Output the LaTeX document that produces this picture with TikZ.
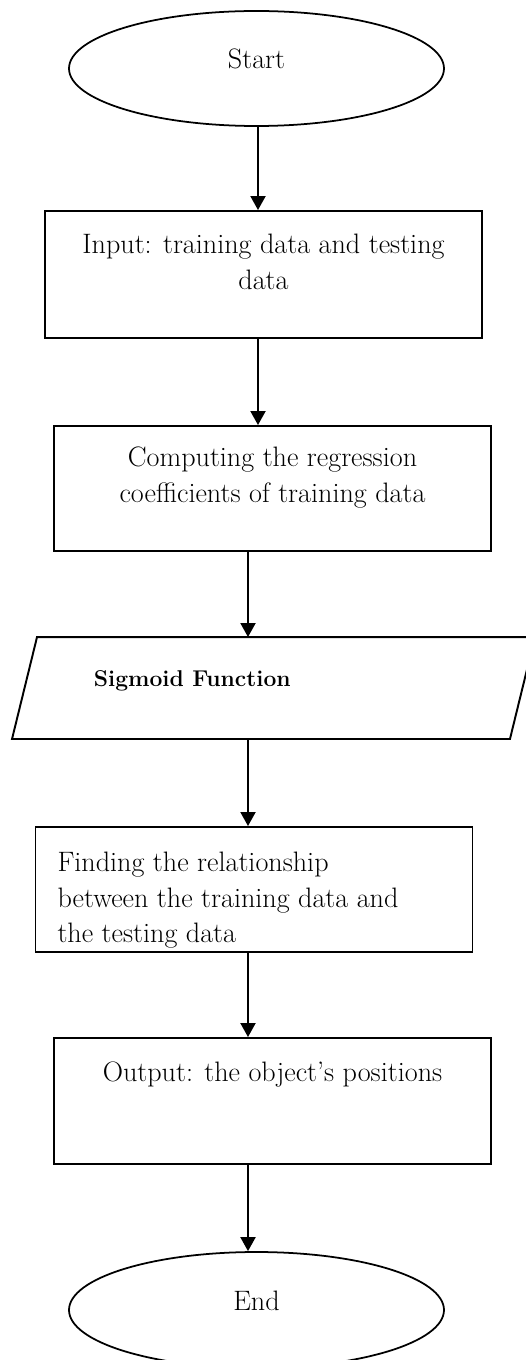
\documentclass[tikz,border=0pt]{standalone}
\usepackage{xcolor}
\usepackage{tikz}
\usetikzlibrary{shapes.geometric}
\usetikzlibrary{positioning}
\usetikzlibrary{arrows.meta}

\begin{document}
\begin{tikzpicture}[
  line width=1.1pt,
  font=\fontsize{16}{20.3}\selectfont,
  >={Triangle[length=0.28cm,width=0.3cm]}
]
\tikzset{
    termnode/.style = {ellipse, draw=black, line width=1pt, minimum width=7.5cm, minimum height=2.3cm},
    procnode/.style = {rectangle, draw=black, minimum width=8.74cm, minimum height=2.5cm},
    ionode/.style = {rectangle, inner sep=0pt, minimum width=9.92cm, minimum height=2.0cm},
    boxtext/.style = {inner sep=0pt, anchor=north},
    flowarrow/.style = {->},
}
\clip (0,0) rectangle (10.52,-27.2);
\coordinate (upper) at (5.16,0);
\coordinate (lower) at (4.96,0);

\node[termnode] (start) at (5.13,-1.37) {};
\node[anchor=base] (start-txt) at (start.center) {Start};

\node[procnode, minimum height=2.54cm] (input) at (5.27,-5.49) {};
\node[boxtext, align=center] (input-txt) at ([yshift=-0.46cm]input.north) {Input: training data and testing\\data};

\node[procnode] (coeff) at (5.45,-9.77) {};
\node[boxtext, align=center] (coeff-txt) at ([yshift=-0.42cm]coeff.north) {Computing the regression\\coefficients of training data};

% parallelogram drawn round an invisible box
\node[ionode] (sigmoid) at (5.47,-13.76) {};
\draw ([xshift=-0.25cm]sigmoid.south west) -- ([xshift=0.25cm]sigmoid.north west)
  -- ([xshift=0.25cm]sigmoid.north east) -- ([xshift=-0.25cm]sigmoid.south east) -- cycle;
\node[anchor=base west, font=\fontsize{13}{15}\selectfont\bfseries] (sigmoid-txt) at (1.74,-13.73) {Sigmoid Function};

\node[procnode] (relation) at (5.08,-17.79) {};
\node[boxtext, anchor=north west, align=left] (relation-txt) at ([xshift=0.44cm,yshift=-0.5cm]relation.north west) {Finding the relationship\\between the training data and\\the testing data};

\node[procnode, minimum height=2.52cm] (output) at (5.45,-22.02) {};
\node[boxtext, align=center] (output-txt) at ([yshift=-0.48cm]output.north) {Output: the object's positions};

\node[termnode, minimum height=2.32cm] (end) at (5.13,-26.2) {};
\node[anchor=base] (end-txt) at (end.center) {End};

\draw[flowarrow] (start.south -| upper) -- (input.north -| upper);
\draw[flowarrow] (input.south -| upper) -- (coeff.north -| upper);
\draw[flowarrow] (coeff.south -| lower) -- (sigmoid.north -| lower);
\draw[flowarrow] (sigmoid.south -| lower) -- (relation.north -| lower);
\draw[flowarrow] (relation.south -| lower) -- (output.north -| lower);
\draw[flowarrow] (output.south -| lower) -- (end.north -| lower);
\end{tikzpicture}
\end{document}
